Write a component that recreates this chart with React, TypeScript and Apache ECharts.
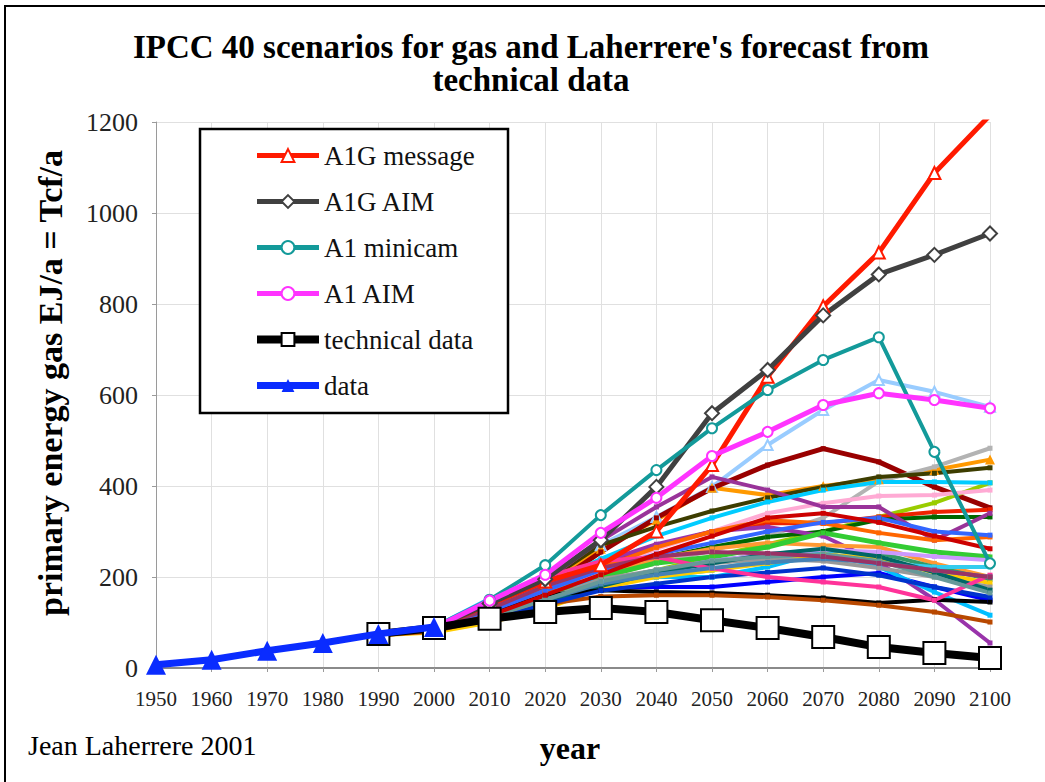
import React, { useEffect, useRef } from "react";
import * as echarts from "echarts";

const FONT = "Liberation Serif";

// x positions (years)
const dataYears = [1950, 1960, 1970, 1980, 1990, 2000];
const scenarioYears = [1990, 2000, 2010, 2020, 2030, 2040, 2050, 2060, 2070, 2080, 2090, 2100];

// historical data (EJ/a)
const dataValues = [7, 18, 38, 55, 75, 90];
// Laherrere forecast from technical data
const technicalValues = [75, 88, 108, 123, 132, 123, 105, 88, 68, 46, 33, 22];

// highlighted IPCC scenarios
const a1gMessage = [73, 88, 140, 190, 226, 300, 446, 640, 795, 913, 1088, 1215];
const a1gAim = [73, 88, 142, 195, 281, 398, 560, 655, 775, 865, 908, 955];
const a1Minicam = [73, 90, 150, 226, 336, 435, 527, 611, 677, 727, 475, 230];
const a1Aim = [73, 88, 148, 205, 297, 374, 466, 519, 578, 604, 589, 571];

// the other IPCC scenarios (unlabelled in the chart)
const otherValues = [
  [73, 88, 145, 190, 270, 332, 398, 490, 567, 633, 607, 574],
  [73, 88, 135, 185, 262, 325, 396, 380, 400, 415, 435, 458],
  [73, 88, 125, 172, 255, 330, 395, 446, 482, 453, 398, 352],
  [73, 86, 118, 160, 200, 230, 258, 290, 330, 410, 442, 483],
  [73, 88, 130, 190, 270, 310, 345, 374, 398, 420, 428, 440],
  [73, 85, 112, 145, 185, 215, 245, 272, 300, 332, 363, 407],
  [73, 88, 122, 165, 215, 262, 300, 340, 362, 378, 380, 391],
  [73, 88, 118, 165, 225, 268, 300, 318, 318, 332, 343, 348],
  [73, 85, 110, 150, 200, 240, 266, 288, 300, 326, 332, 332],
  [73, 88, 132, 192, 280, 354, 420, 391, 354, 354, 281, 340],
  [73, 88, 128, 178, 232, 272, 300, 310, 290, 232, 150, 55],
  [73, 85, 110, 145, 175, 178, 178, 189, 200, 209, 178, 149],
  [73, 88, 120, 165, 220, 265, 300, 325, 318, 297, 281, 288],
  [73, 86, 115, 155, 205, 240, 262, 275, 270, 266, 230, 200],
  [73, 85, 110, 150, 200, 231, 244, 266, 297, 275, 255, 244],
  [73, 85, 110, 150, 190, 215, 235, 250, 259, 253, 222, 195],
  [73, 88, 130, 180, 240, 290, 330, 365, 391, 409, 409, 407],
  [73, 88, 140, 175, 190, 200, 215, 240, 253, 231, 222, 222],
  [73, 90, 152, 185, 190, 200, 200, 222, 255, 222, 167, 116],
  [73, 86, 115, 150, 190, 215, 235, 250, 260, 255, 245, 237],
  [72, 78, 100, 130, 175, 200, 215, 230, 250, 240, 210, 187],
  [73, 85, 110, 150, 195, 215, 230, 240, 235, 220, 200, 178],
  [73, 85, 110, 145, 180, 210, 230, 250, 262, 245, 210, 171],
  [73, 85, 120, 160, 171, 167, 165, 160, 154, 143, 150, 145],
  [72, 80, 110, 140, 157, 160, 160, 156, 149, 138, 123, 101],
  [73, 85, 105, 140, 170, 185, 200, 210, 220, 204, 178, 156],
  [73, 88, 125, 170, 215, 250, 275, 300, 320, 330, 300, 292],
  [73, 88, 150, 200, 235, 244, 219, 200, 189, 178, 149, 204],
  [73, 85, 115, 150, 185, 205, 220, 232, 240, 232, 215, 200],
  [73, 86, 112, 150, 190, 215, 235, 245, 250, 235, 200, 165],
  [73, 88, 130, 180, 220, 245, 255, 252, 245, 230, 215, 200],
  [73, 86, 115, 160, 205, 250, 290, 330, 340, 320, 290, 262],
];
const otherColors = [
  "#99ccff", "#ff9900", "#990000", "#b3b3b3", "#3d3d00", "#99cc00", "#ffaad4", "#ee2200",
  "#006600", "#993399", "#9933aa", "#0000ff", "#ff6600", "#ff9933", "#33cc33", "#339966",
  "#00ccff", "#33ccee", "#00bfff", "#cc99ff", "#ffcc00", "#999999", "#006666", "#000000",
  "#b84800", "#0033cc", "#3366ff", "#ff3399", "#4682b4", "#669999", "#993366", "#cc0000",
];

const legendNames = ["A1G message", "A1G AIM", "A1 minicam", "A1 AIM", "technical data", "data"];
const legendLineWidths = [5, 5, 5, 5, 8, 7];
const yTicks = { min: 0, max: 1200, interval: 200 };
const xTicks = { min: 1950, max: 2100, interval: 10 };

const pairs = (xs: number[], ys: number[]) => ys.map((v, i) => [xs[i], v]);

const textStyle = (size: number, bold: boolean, align: string) => ({
  fontFamily: FONT,
  fontSize: size,
  fontWeight: bold ? "bold" : "normal",
  fill: "#000",
  align,
  verticalAlign: "middle",
  textAlign: align,
  textVerticalAlign: "middle",
});

const legendText = { fontFamily: FONT, fontSize: 27, color: "#111", lineHeight: 27 };

export default function App() {
  const ref = useRef<HTMLDivElement>(null);
  useEffect(() => {
    if (!ref.current) return;
    const chart = echarts.init(ref.current, undefined, { renderer: "svg" });

    const others = otherValues.map((vals, i) => ({
      name: `scenario ${i + 5}`,
      type: "line",
      data: pairs(scenarioYears, vals),
      symbol: i === 0 ? "emptyTriangle" : i === 1 ? "triangle" : "rect",
      symbolSize: i < 2 ? 10 : 5,
      lineStyle: { color: otherColors[i], width: i === 2 || i === 14 ? 5 : 4 },
      itemStyle: { color: otherColors[i], borderWidth: 2 },
      z: 2,
    }));

    const main = [
      { name: "A1G message", vals: a1gMessage, color: "#ff1a00", symbol: "emptyTriangle", size: 12, width: 5 },
      { name: "A1G AIM", vals: a1gAim, color: "#404040", symbol: "emptyDiamond", size: 14, width: 5 },
      { name: "A1 minicam", vals: a1Minicam, color: "#139a9a", symbol: "emptyCircle", size: 10, width: 4 },
      { name: "A1 AIM", vals: a1Aim, color: "#ff33ff", symbol: "emptyCircle", size: 10, width: 5 },
    ].map((s) => ({
      name: s.name,
      type: "line",
      data: pairs(scenarioYears, s.vals),
      symbol: s.symbol,
      symbolSize: s.size,
      lineStyle: { color: s.color, width: s.width },
      itemStyle: { color: s.color, borderWidth: 2 },
      z: 3,
    }));

    const option = {
      animation: false,
      backgroundColor: "#ffffff",
      textStyle: { fontFamily: FONT },
      grid: { left: 156, right: 55, top: 122, bottom: 114, containLabel: false },
      xAxis: {
        type: "value",
        ...xTicks,
        axisLine: { show: true, lineStyle: { color: "#8a8a8a", width: 2 } },
        axisTick: { show: true, length: 4, lineStyle: { color: "#9a9a9a" } },
        axisLabel: {
          fontFamily: FONT,
          fontSize: 21,
          color: "#222",
          margin: 20,
          formatter: (v: number) => String(v),
        },
        splitLine: { show: true, lineStyle: { color: "#e0e0e0", width: 1 } },
      },
      yAxis: {
        type: "value",
        ...yTicks,
        axisLine: { show: true, lineStyle: { color: "#9a9a9a", width: 1 } },
        axisTick: { show: true, length: 4, lineStyle: { color: "#9a9a9a" } },
        axisLabel: {
          fontFamily: FONT,
          fontSize: 26,
          color: "#222",
          margin: 18,
          formatter: (v: number) => String(v),
        },
        splitLine: { show: true, lineStyle: { color: "#e0e0e0", width: 1 } },
      },
      legend: {
        data: legendNames.map((n, i) => ({
          name: n,
          lineStyle: { width: legendLineWidths[i] },
          textStyle: legendText,
        })),
        orient: "vertical",
        left: 253,
        top: 142,
        padding: 0,
        itemWidth: 62,
        itemHeight: 16,
        itemGap: 19,
        selectedMode: false,
        textStyle: legendText,
        z: 4,
      },
      graphic: [
        {
          type: "rect",
          z: 1,
          shape: { x: 5, y: 6, width: 1200, height: 1000 },
          style: { fill: "none", stroke: "#000", lineWidth: 2 },
          silent: true,
        },
        {
          type: "rect",
          z: 3,
          shape: { x: 200, y: 129, width: 308, height: 284 },
          style: { fill: "#fff", stroke: "#000", lineWidth: 2.5 },
          silent: true,
        },
        {
          type: "text",
          x: 531,
          y: 47,
          style: { text: "IPCC 40 scenarios for gas and Laherrere's forecast from", ...textStyle(33, true, "center") },
        },
        {
          type: "text",
          x: 531,
          y: 80,
          style: { text: "technical data", ...textStyle(33, true, "center") },
        },
        {
          type: "text",
          x: 50,
          y: 383,
          rotation: Math.PI / 2,
          style: { text: "primary energy gas EJ/a = Tcf/a", ...textStyle(34, true, "center") },
        },
        {
          type: "text",
          x: 570,
          y: 748,
          style: { text: "year", ...textStyle(32, true, "center") },
        },
        {
          type: "text",
          x: 28,
          y: 745,
          style: { text: "Jean Laherrere 2001", ...textStyle(28, false, "left") },
        },
      ],
      series: [
        ...others,
        ...main,
        {
          name: "technical data",
          type: "line",
          data: pairs(scenarioYears, technicalValues),
          symbol: "rect",
          symbolSize: 22,
          lineStyle: { color: "#000", width: 8 },
          itemStyle: { color: "#fff", borderColor: "#000", borderWidth: 2 },
          z: 4,
        },
        {
          name: "data",
          type: "line",
          data: pairs(dataYears, dataValues),
          symbol: "triangle",
          symbolSize: 20,
          lineStyle: { color: "#0a2cff", width: 7 },
          itemStyle: { color: "#0a2cff" },
          z: 5,
        },
      ],
    };

    chart.setOption(option as any);
    return () => chart.dispose();
  }, []);

  return (
    <div
      ref={ref}
      style={{ position: "absolute", left: 0, top: 0, width: 1045, height: 782 }}
    />
  );
}
